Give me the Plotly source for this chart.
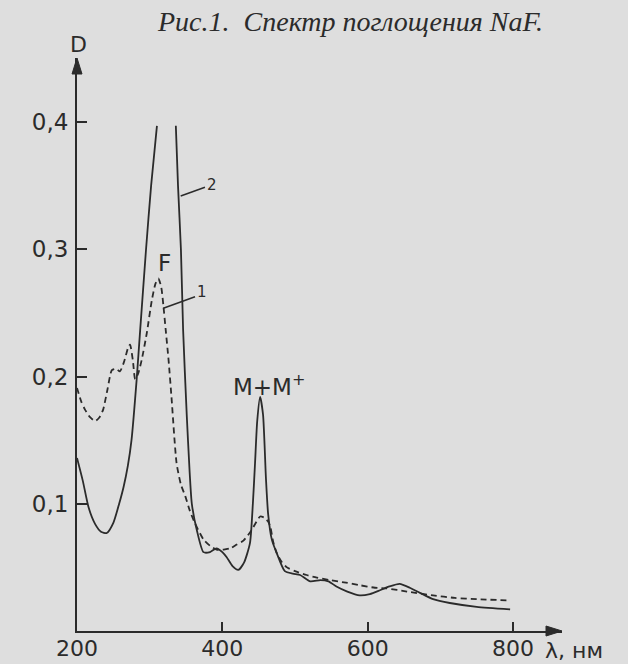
import plotly.graph_objects as go

# ---- data ----
wl_solid = [200, 208, 216, 225, 233, 241, 250, 258, 264, 270, 275, 282, 287, 295, 302, 310,
            None,
            336, 339, 343, 346, 351, 355, 358, 365, 374, 383, 392, 400, 406, 414, 422, 430,
            438, 442, 445, 448, 452, 456, 460, 463, 468, 475, 486, 497, 507, 521, 535, 546,
            557, 572, 589, 603, 617, 630, 644, 658, 672, 690, 713, 750, 796]
d_solid = [0.136, 0.118, 0.097, 0.084, 0.078, 0.077, 0.085, 0.100, 0.113, 0.130, 0.150, 0.197,
           0.237, 0.300, 0.350, 0.397,
           None,
           0.397, 0.350, 0.300, 0.237, 0.170, 0.125, 0.100, 0.079, 0.062, 0.062, 0.065, 0.062,
           0.058, 0.051, 0.048, 0.054, 0.069, 0.100, 0.132, 0.165, 0.184, 0.170, 0.120, 0.092,
           0.072, 0.061, 0.047, 0.045, 0.044, 0.039, 0.040, 0.039, 0.035, 0.031, 0.028, 0.029,
           0.032, 0.035, 0.037, 0.034, 0.030, 0.025, 0.022, 0.019, 0.017]

wl_dash = [200, 206, 211, 218, 225, 231, 236, 242, 248, 254, 259, 265, 270, 273, 277, 280,
           284, 289, 296, 303, 308, 312, 316, 319, 322, 326, 330, 337, 343, 349, 355, 362,
           374, 383, 392, 402, 411, 420, 429, 440, 447, 452, 458, 463, 466, 470, 475, 482,
           489, 500, 516, 530, 548, 570, 589, 610, 626, 654, 690, 720, 750, 796]
d_dash = [0.191, 0.180, 0.174, 0.168, 0.165, 0.168, 0.174, 0.190, 0.205, 0.206, 0.204, 0.212,
          0.222, 0.225, 0.212, 0.198, 0.202, 0.213, 0.234, 0.260, 0.273, 0.277, 0.270, 0.255,
          0.237, 0.213, 0.184, 0.132, 0.115, 0.106, 0.095, 0.085, 0.072, 0.067, 0.064, 0.064,
          0.065, 0.068, 0.071, 0.079, 0.086, 0.090, 0.089, 0.086, 0.082, 0.070, 0.061, 0.054,
          0.050, 0.047, 0.044, 0.042, 0.040, 0.038, 0.036, 0.034, 0.0335, 0.031, 0.028, 0.026,
          0.025, 0.024]

x_tickvals = [200, 400, 600, 800]
x_ticktext = ["200", "400", "600", "800"]
y_tickvals = [0.1, 0.2, 0.3, 0.4]
y_ticktext = ["0,1", "0,2", "0,3", "0,4"]

title_text = "Рис.1.  Спектр поглощения NaF."
x_label = "λ, нм"
y_label = "D"

X_MIN, X_MAX = 200, 867.4
Y_MIN, Y_MAX = 0, 0.4503

BG = "#dedede"
INK = "#2b2b2b"
FONT = "DejaVu Sans"

PW, PH = 485.0, 573.0  # plot area size in px

fig = go.Figure()
fig.add_trace(go.Scatter(x=wl_dash, y=d_dash, mode="lines", connectgaps=False,
                         line=dict(color=INK, width=1.8, dash="6px,4px", shape="spline", smoothing=0.6),
                         showlegend=False, hoverinfo="skip"))
fig.add_trace(go.Scatter(x=wl_solid, y=d_solid, mode="lines", connectgaps=False,
                         line=dict(color=INK, width=1.8, shape="spline", smoothing=0.6),
                         showlegend=False, hoverinfo="skip"))

# leader lines for curve numbers
fig.add_shape(type="line", x0=318.8, y0=0.2536, x1=362.4, y1=0.2627, xref="x", yref="y",
              line=dict(color=INK, width=1.5))
fig.add_shape(type="line", x0=342.7, y0=0.3418, x1=376.1, y1=0.3487, xref="x", yref="y",
              line=dict(color=INK, width=1.5))

# axis arrow heads (paper coordinates)
L, HW = 16.0, 5.0
fig.add_shape(type="path", xref="paper", yref="paper",
              path=f"M 1 0 L {1 - L / PW} {HW / PH} L {1 - L / PW} {-HW / PH} Z",
              fillcolor=INK, line=dict(color=INK, width=1))
fig.add_shape(type="path", xref="paper", yref="paper",
              path=f"M 0 1 L {HW / PW} {1 - L / PH} L {-HW / PW} {1 - L / PH} Z",
              fillcolor=INK, line=dict(color=INK, width=1))

ann = []
ann.append(dict(x=371.6, y=0.2667, xref="x", yref="y", text="1", showarrow=False,
                font=dict(family=FONT, size=15, color=INK), xanchor="center", yanchor="middle"))
ann.append(dict(x=385.4, y=0.3505, xref="x", yref="y", text="2", showarrow=False,
                font=dict(family=FONT, size=15, color=INK), xanchor="center", yanchor="middle"))
ann.append(dict(x=321, y=0.289, xref="x", yref="y", text="F", showarrow=False,
                font=dict(family=FONT, size=23, color=INK), xanchor="center", yanchor="middle"))
ann.append(dict(x=464, y=0.193, xref="x", yref="y", text="M+M<sup>+</sup>", showarrow=False,
                font=dict(family=FONT, size=23, color=INK), xanchor="center", yanchor="middle"))
# axis labels
ann.append(dict(x=1 / PW, y=(631 - 44) / PH, xref="paper", yref="paper", text=y_label, showarrow=False,
                font=dict(family=FONT, size=22, color=INK), xanchor="center", yanchor="middle"))
ann.append(dict(x=(543 - 77) / PW, y=(631 - 650) / PH, xref="paper", yref="paper", text=x_label,
                showarrow=False, font=dict(family=FONT, size=22, color=INK),
                xanchor="left", yanchor="middle"))
# title
ann.append(dict(x=(350 - 77) / PW, y=(631 - 22) / PH, xref="paper", yref="paper",
                text="<i>" + title_text + "</i>",
                showarrow=False, font=dict(family="Liberation Serif", size=28, color=INK),
                xanchor="center", yanchor="middle"))

fig.update_layout(
    width=628, height=664,
    margin=dict(l=77, r=66, t=58, b=33, autoexpand=False),
    paper_bgcolor=BG, plot_bgcolor=BG,
    annotations=ann,
    xaxis=dict(range=[X_MIN, X_MAX], showgrid=False, zeroline=False, showline=True,
               linecolor=INK, linewidth=2, ticks="inside", ticklen=9, tickwidth=1.5,
               tickcolor=INK, tickvals=x_tickvals, ticktext=x_ticktext, automargin=False,
               tickfont=dict(family=FONT, size=22, color=INK), ticklabelstandoff=-3),
    yaxis=dict(range=[Y_MIN, Y_MAX], showgrid=False, zeroline=False, showline=True,
               linecolor=INK, linewidth=2, ticks="inside", ticklen=10, tickwidth=1.5,
               tickcolor=INK, tickvals=y_tickvals, ticktext=y_ticktext, automargin=False,
               tickfont=dict(family=FONT, size=23, color=INK), ticklabelstandoff=2),
)

fig.write_html("out.html")
